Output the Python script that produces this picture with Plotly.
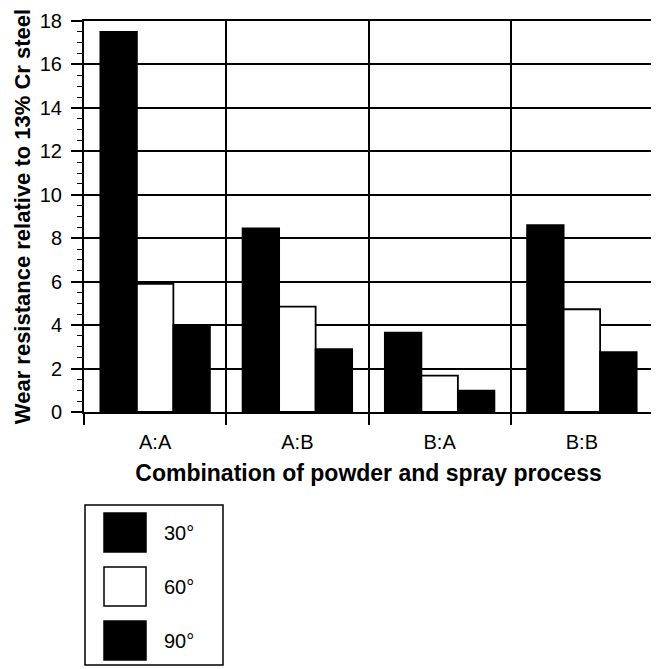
import plotly.graph_objects as go

categories = ["A:A", "A:B", "B:A", "B:B"]
angles = ["30°", "60°", "90°"]
wear_30 = [17.5, 8.45, 3.65, 8.6]
wear_60 = [5.9, 4.85, 1.67, 4.73]
wear_90 = [4.0, 2.89, 0.98, 2.76]
series_values = [wear_30, wear_60, wear_90]
fill_colors = ["black", "white", "black"]

# the page body adds an 8px margin; size the figure so the screenshot lines up
OFF = 8
W, H = 659 - OFF, 669 - OFF
PL, PR, PT, PB = 84, 653, 21, 412   # plot area in screenshot pixels
L, R, T, B = PL - OFF, 659 - PR, PT - OFF, 669 - PB
PW, PH = PR - PL, PB - PT

def px_x(px):
    return (px - PL) / PW

def px_y(py):
    return (PB - py) / PH

FONT = "Liberation Sans, Arial, Helvetica, sans-serif"

fig = go.Figure()
for name, vals, col in zip(angles, series_values, fill_colors):
    fig.add_trace(go.Bar(
        x=categories, y=vals, name=name,
        marker=dict(color=col, line=dict(color="black", width=1.8)),
    ))

fig.update_layout(
    width=W, height=H,
    margin=dict(l=L, r=R, t=T, b=B, autoexpand=False),
    paper_bgcolor="white", plot_bgcolor="white",
    barmode="group", bargap=0.23, bargroupgap=0,
    showlegend=False,
    font=dict(family=FONT, color="black", size=20),
)

fig.update_xaxes(
    type="category",
    tickson="boundaries",
    ticks="outside", ticklen=11, tickwidth=1.8, tickcolor="black",
    showgrid=True, gridcolor="black", gridwidth=1.5,
    showline=True, linecolor="black", linewidth=2, mirror=True,
    tickfont=dict(size=20, family=FONT),
    ticklabelstandoff=11,
    title=dict(text="Combination of powder and spray process",
               font=dict(size=23, family=FONT, weight="bold"), standoff=13),
)
fig.update_yaxes(
    range=[0, 18], dtick=2, tick0=0,
    ticks="outside", ticklen=11, tickwidth=1.8, tickcolor="black",
    showgrid=True, gridcolor="black", gridwidth=1.5,
    showline=True, linecolor="black", linewidth=2, mirror=True,
    zeroline=False,
    minor=dict(dtick=0.5, ticks="outside", ticklen=5, tickwidth=1.2, tickcolor="black", showgrid=False),
    tickfont=dict(size=20, family=FONT),
    ticklabelstandoff=5,
    title=dict(text="Wear resistance relative to 13% Cr steel",
               font=dict(size=22, family=FONT, weight="bold"), standoff=3),
)

# Legend drawn manually (large swatches)
shapes = [dict(type="rect", xref="paper", yref="paper",
               x0=px_x(85), x1=px_x(223), y0=px_y(665), y1=px_y(505),
               line=dict(color="black", width=1.5), fillcolor="white")]
sw_tops = [513, 567, 621]
for top, col, name in zip(sw_tops, fill_colors, angles):
    shapes.append(dict(type="rect", xref="paper", yref="paper",
                       x0=px_x(104), x1=px_x(146), y0=px_y(top + 39), y1=px_y(top),
                       line=dict(color="black", width=1.5), fillcolor=col))
    fig.add_annotation(xref="paper", yref="paper", x=px_x(162), y=px_y(top + 19.5),
                       text=name, showarrow=False, xanchor="left", yanchor="middle",
                       font=dict(size=20, family=FONT, color="black"))
fig.update_layout(shapes=shapes)

fig.write_html("out.html")
